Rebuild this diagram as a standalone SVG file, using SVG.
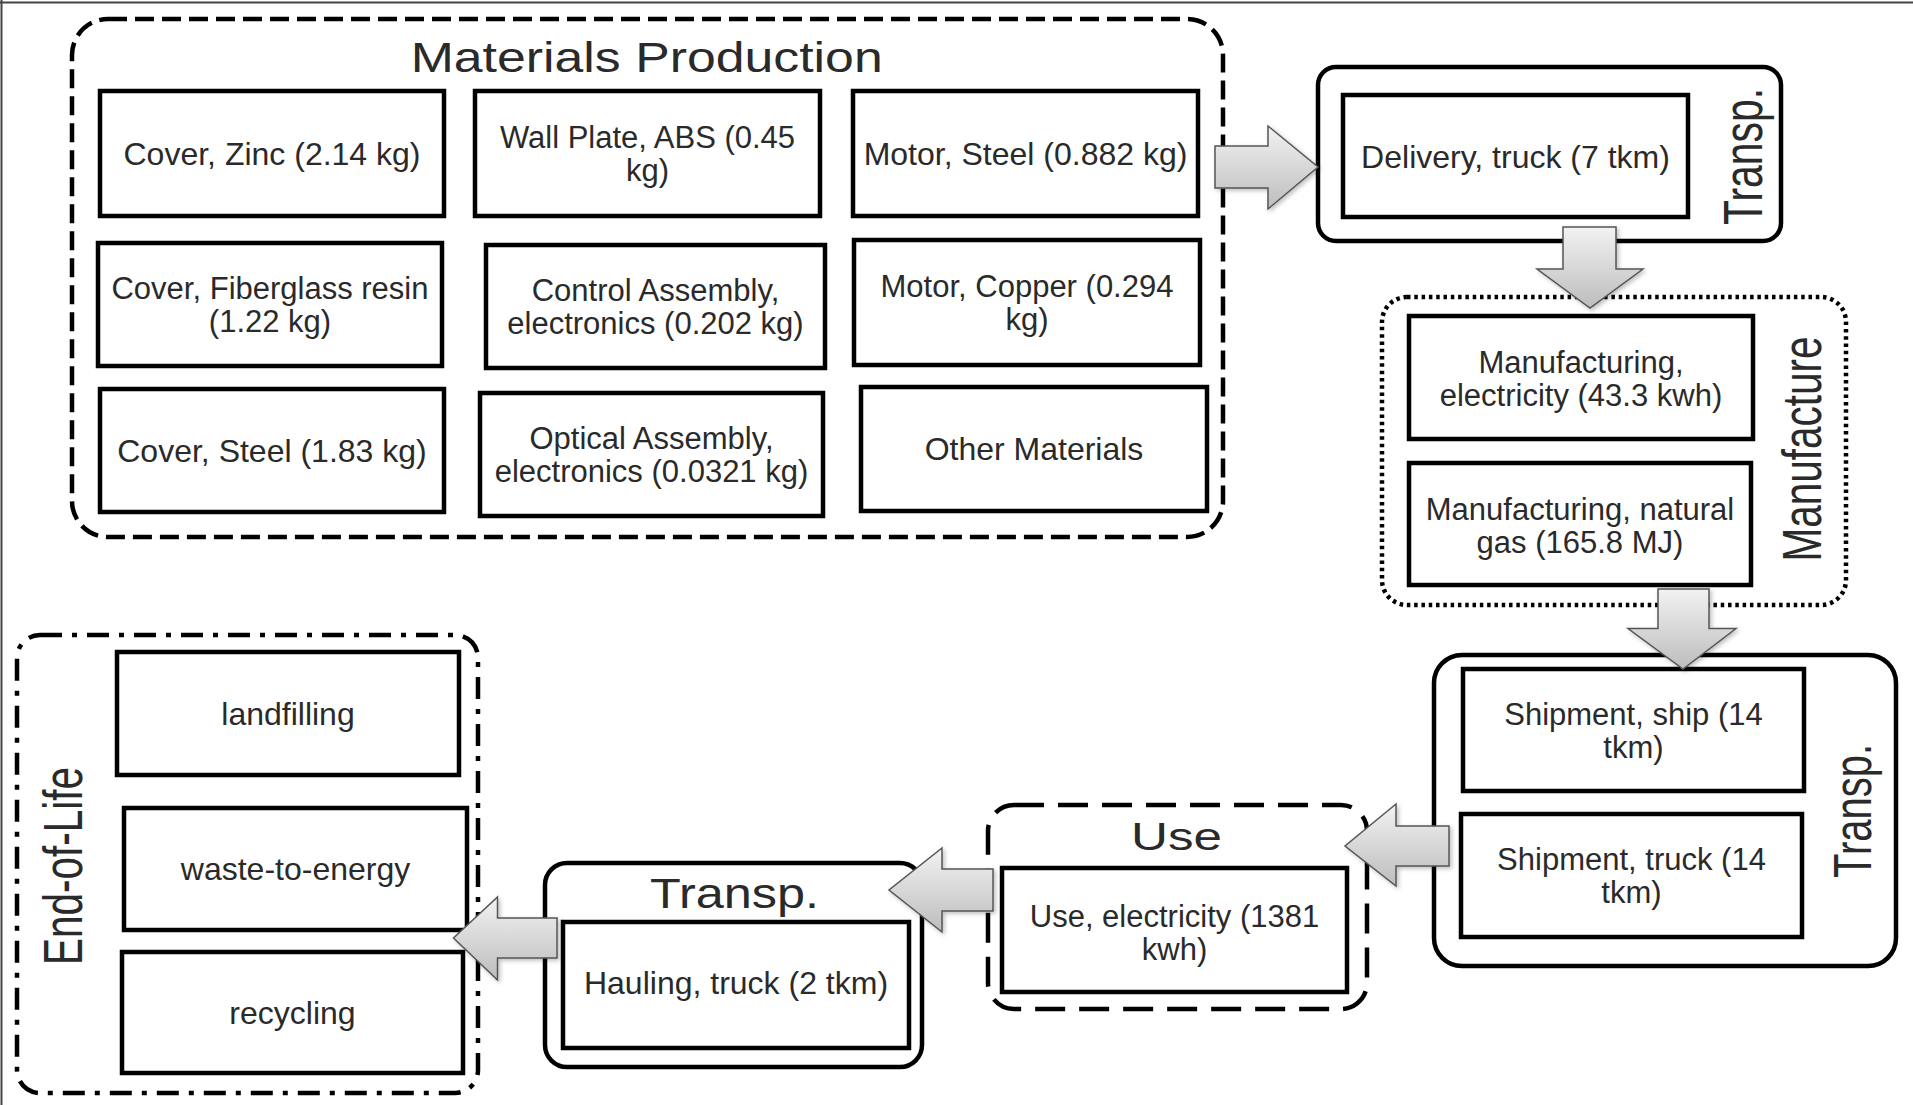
<svg xmlns="http://www.w3.org/2000/svg" width="1913" height="1105" viewBox="0 0 1913 1105">
<style>
.box{fill:#fff;stroke:#000;stroke-width:4.5}
.grp{fill:none;stroke:#000;stroke-width:4.5}
.dash{stroke-dasharray:19 8}
.dot{stroke-dasharray:3.5 3.8}
.ldash{stroke-dasharray:30 14}
.dd{stroke-dasharray:22 10 5 10}
.t{font-family:"Liberation Sans",Arial,Helvetica,sans-serif;font-size:32px;fill:#2a2a2a;text-anchor:middle}
.t2{font-family:"Liberation Sans",Arial,Helvetica,sans-serif;font-size:31px;fill:#2a2a2a;text-anchor:middle}
.h{font-family:"Liberation Sans",Arial,Helvetica,sans-serif;fill:#2a2a2a;text-anchor:middle}
.arrow{fill:url(#ag);stroke:#555;stroke-width:1.5;stroke-linejoin:miter;filter:url(#sh)}
</style>
<defs>
<linearGradient id="ag" x1="0" y1="0" x2="0" y2="1">
<stop offset="0" stop-color="#f2f2f2"/>
<stop offset="1" stop-color="#bdbdbd"/>
</linearGradient>
<filter id="sh" x="-20%" y="-20%" width="140%" height="140%">
<feDropShadow dx="2" dy="2" stdDeviation="2" flood-color="#000" flood-opacity="0.25"/>
</filter>
</defs>
<rect x="0" y="0" width="1913" height="1105" fill="#fff"/>
<line x1="0" y1="2.5" x2="1913" y2="2.5" stroke="#444" stroke-width="2"/>
<line x1="1.5" y1="0" x2="1.5" y2="1105" stroke="#444" stroke-width="2"/>

<g id="materials-production">
<rect class="grp dash" x="72" y="19" width="1151" height="518" rx="36"/>
<text class="h" x="646.7" y="71.7" font-size="42" textLength="472" lengthAdjust="spacingAndGlyphs">Materials Production</text>
</g>
<g id="cover-zinc"><rect class="box" x="100" y="91" width="344" height="125"/><text class="t" x="272" y="164.5">Cover, Zinc (2.14 kg)</text></g>
<g id="wall-plate"><rect class="box" x="475" y="91" width="345" height="125"/><text class="t2" x="647.5" y="148">Wall Plate, ABS (0.45</text><text class="t2" x="647.5" y="181">kg)</text></g>
<g id="motor-steel"><rect class="box" x="853" y="91" width="345" height="125"/><text class="t" x="1025.5" y="164.5">Motor, Steel (0.882 kg)</text></g>
<g id="cover-fiberglass"><rect class="box" x="98" y="243" width="344" height="123"/><text class="t2" x="270" y="299">Cover, Fiberglass resin</text><text class="t2" x="270" y="332">(1.22 kg)</text></g>
<g id="control-assembly"><rect class="box" x="486" y="245" width="339" height="123"/><text class="t2" x="655.5" y="301">Control Assembly,</text><text class="t2" x="655.5" y="334">electronics (0.202 kg)</text></g>
<g id="motor-copper"><rect class="box" x="854" y="240" width="346" height="125"/><text class="t2" x="1027" y="297">Motor, Copper (0.294</text><text class="t2" x="1027" y="330">kg)</text></g>
<g id="cover-steel"><rect class="box" x="100" y="389" width="344" height="123"/><text class="t" x="272" y="462">Cover, Steel (1.83 kg)</text></g>
<g id="optical-assembly"><rect class="box" x="480" y="393" width="343" height="123"/><text class="t2" x="651.5" y="449">Optical Assembly,</text><text class="t2" x="651.5" y="482">electronics (0.0321 kg)</text></g>
<g id="other-materials"><rect class="box" x="861" y="387" width="346" height="124"/><text class="t" x="1034" y="460">Other Materials</text></g>

<g id="transp-delivery">
<rect class="grp" x="1318" y="67" width="463" height="174" rx="18"/>
<text class="h" transform="translate(1762,156.5) rotate(-90)" font-size="55" textLength="137" lengthAdjust="spacingAndGlyphs">Transp.</text>
</g>
<g id="delivery-truck"><rect class="box" x="1343" y="95" width="345" height="122"/><text class="t" x="1515.5" y="168">Delivery, truck (7 tkm)</text></g>

<g id="manufacture">
<rect class="grp dot" x="1382" y="297" width="464" height="308" rx="25"/>
<text class="h" transform="translate(1821,449) rotate(-90)" font-size="55" textLength="225" lengthAdjust="spacingAndGlyphs">Manufacture</text>
</g>
<g id="mfg-electricity"><rect class="box" x="1409" y="316" width="344" height="123"/><text class="t2" x="1581" y="372.5">Manufacturing,</text><text class="t2" x="1581" y="405.5">electricity (43.3 kwh)</text></g>
<g id="mfg-gas"><rect class="box" x="1409" y="463" width="342" height="122"/><text class="t2" x="1580" y="519.5">Manufacturing, natural</text><text class="t2" x="1580" y="552.5">gas (165.8 MJ)</text></g>

<g id="transp-shipment">
<rect class="grp" x="1434" y="655" width="462" height="311" rx="28"/>
<text class="h" transform="translate(1871,811) rotate(-90)" font-size="53" textLength="134" lengthAdjust="spacingAndGlyphs">Transp.</text>
</g>
<g id="shipment-ship"><rect class="box" x="1463" y="669" width="341" height="122"/><text class="t2" x="1633.5" y="724.5">Shipment, ship (14</text><text class="t2" x="1633.5" y="757.5">tkm)</text></g>
<g id="shipment-truck"><rect class="box" x="1461" y="814" width="341" height="123"/><text class="t2" x="1631.5" y="870">Shipment, truck (14</text><text class="t2" x="1631.5" y="903">tkm)</text></g>

<g id="use">
<rect class="grp ldash" x="988" y="805" width="379" height="204" rx="26"/>
<text class="h" x="1176.5" y="850" font-size="38" textLength="91" lengthAdjust="spacingAndGlyphs">Use</text>
</g>
<g id="use-electricity"><rect class="box" x="1002" y="868" width="345" height="124"/><text class="t2" x="1174.5" y="927">Use, electricity (1381</text><text class="t2" x="1174.5" y="960">kwh)</text></g>

<g id="transp-hauling">
<rect class="grp" x="545" y="863" width="377" height="204" rx="22"/>
<text class="h" x="734.5" y="908" font-size="42" textLength="169" lengthAdjust="spacingAndGlyphs">Transp.</text>
</g>
<g id="hauling-truck"><rect class="box" x="563" y="922" width="346" height="126"/><text class="t" x="736" y="994">Hauling, truck (2 tkm)</text></g>

<g id="end-of-life">
<rect class="grp dd" x="17" y="635" width="461" height="458" rx="23"/>
<text class="h" transform="translate(82,866) rotate(-90)" font-size="55" textLength="198" lengthAdjust="spacingAndGlyphs">End-of-Life</text>
</g>
<g id="landfilling"><rect class="box" x="117" y="652" width="342" height="123"/><text class="t" x="288" y="725">landfilling</text></g>
<g id="waste-to-energy"><rect class="box" x="124" y="808" width="343" height="122"/><text class="t" x="295.5" y="880">waste-to-energy</text></g>
<g id="recycling"><rect class="box" x="122" y="952" width="341" height="121"/><text class="t" x="292.5" y="1024">recycling</text></g>

<g id="connectors">
<polygon class="arrow" points="1215,146 1268,146 1268,126 1318,167 1268,209 1268,188 1215,188"/>
<polygon class="arrow" points="1563,227 1616,227 1616,269 1643,269 1590,308 1537,269 1563,269"/>
<polygon class="arrow" points="1658,589 1709,589 1709,628.5 1736,628.5 1683,669 1628,628.5 1658,628.5"/>
<polygon class="arrow" points="1449,826 1396,826 1396,804 1345,846 1396,886 1396,866 1449,866"/>
<polygon class="arrow" points="993,869 942,869 942,848 889,890 942,932 942,911 993,911"/>
<polygon class="arrow" points="557,918 497.5,918 497.5,897 453.5,938 497.5,980 497.5,958 557,958"/>
</g>
</svg>
